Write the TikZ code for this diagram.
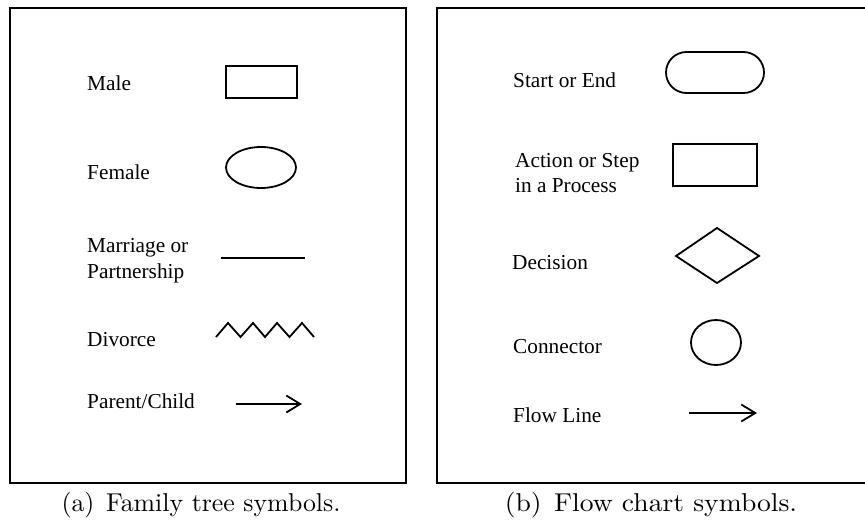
\documentclass[tikz,border=0pt]{standalone}
\usepackage{fontspec}
\usetikzlibrary{arrows.meta,shapes.geometric}
\newfontfamily\timesfont{Liberation Serif}
\newfontfamily\capfont{lmroman10-regular}[Extension=.otf]
\tikzset{
  frame/.style={draw=black, line width=1.3pt},
  sym/.style={draw=black, line width=1.8pt},
  lbl/.style={font=\timesfont\fontsize{21.3}{26}\selectfont, anchor=base west, inner sep=0pt, align=left},
  captext/.style={font=\capfont\fontsize{25.8}{30}\selectfont, anchor=base, inner sep=0pt},
  barb/.style={sym, -{Straight Barb[length=14pt, width=17pt, line width=1.8pt]}}
}
\begin{document}
\begin{tikzpicture}[x=1pt, y=-1pt]
\useasboundingbox (0,0) rectangle (865,522);
\fill[white] (0,0) rectangle (865,522);

% panel frames
\draw[frame] (10,8) rectangle (406,483);
\draw[frame] (437,8) rectangle (872,483);

% ---- family tree symbols ----
\node[lbl] (male) at (87,90) {Male};
\draw[sym] (226,66) rectangle (297,98);

\node[lbl] (female) at (87,179) {Female};
\draw[sym] (261,167.5) ellipse [x radius=35, y radius=20.5];

% two-line label: base anchor sits on the last line
\node[lbl] (marriage) at (87,278) {Marriage or\\Partnership};
\coordinate (m1) at (221,258);
\coordinate (m2) at (305,258);
\draw[sym, line width=1.5pt] (m1) -- (m2);

\node[lbl] (divorce) at (87,346) {Divorce};
\draw[sym, line join=miter] (216,337) -- (228,323) -- (240.5,337) -- (253,323) -- (265,337)
  -- (277,323) -- (289.5,337) -- (302,323) -- (314,337);

\node[lbl] (parent) at (87,408) {Parent/Child};
\coordinate (p1) at (236,404);
\coordinate (p2) at (302,404);
\draw[barb] (p1) -- (p2);

% ---- flow chart symbols ----
\node[lbl] (startend) at (513,87) {Start or End};
\draw[sym, rounded corners=20.5pt] (666,52) rectangle (764,93);

\node[lbl, font=\timesfont\fontsize{21.3}{25}\selectfont] (action) at (515,192) {Action or Step\\in a Process};
\draw[sym] (673,144) rectangle (757,186);

\node[lbl] (decision) at (512,269) {Decision};
\draw[sym, line join=miter] (676,256) -- (717,228) -- (759,256) -- (717,283) -- cycle;

\node[lbl] (connector) at (513,353) {Connector};
\draw[sym] (716,342.5) ellipse [x radius=25, y radius=22.5];

\node[lbl] (flowline) at (513,422) {Flow Line};
\coordinate (f1) at (689,413);
\coordinate (f2) at (757,413);
\draw[barb] (f1) -- (f2);

% ---- captions ----
\node[captext] (capa) at (201,511) {(a)\hspace{0.45em}Family tree symbols.};
\node[captext, xscale=1.07] (capb) at (651,511) {(b)\hspace{0.45em}Flow chart symbols.};
\end{tikzpicture}
\end{document}
